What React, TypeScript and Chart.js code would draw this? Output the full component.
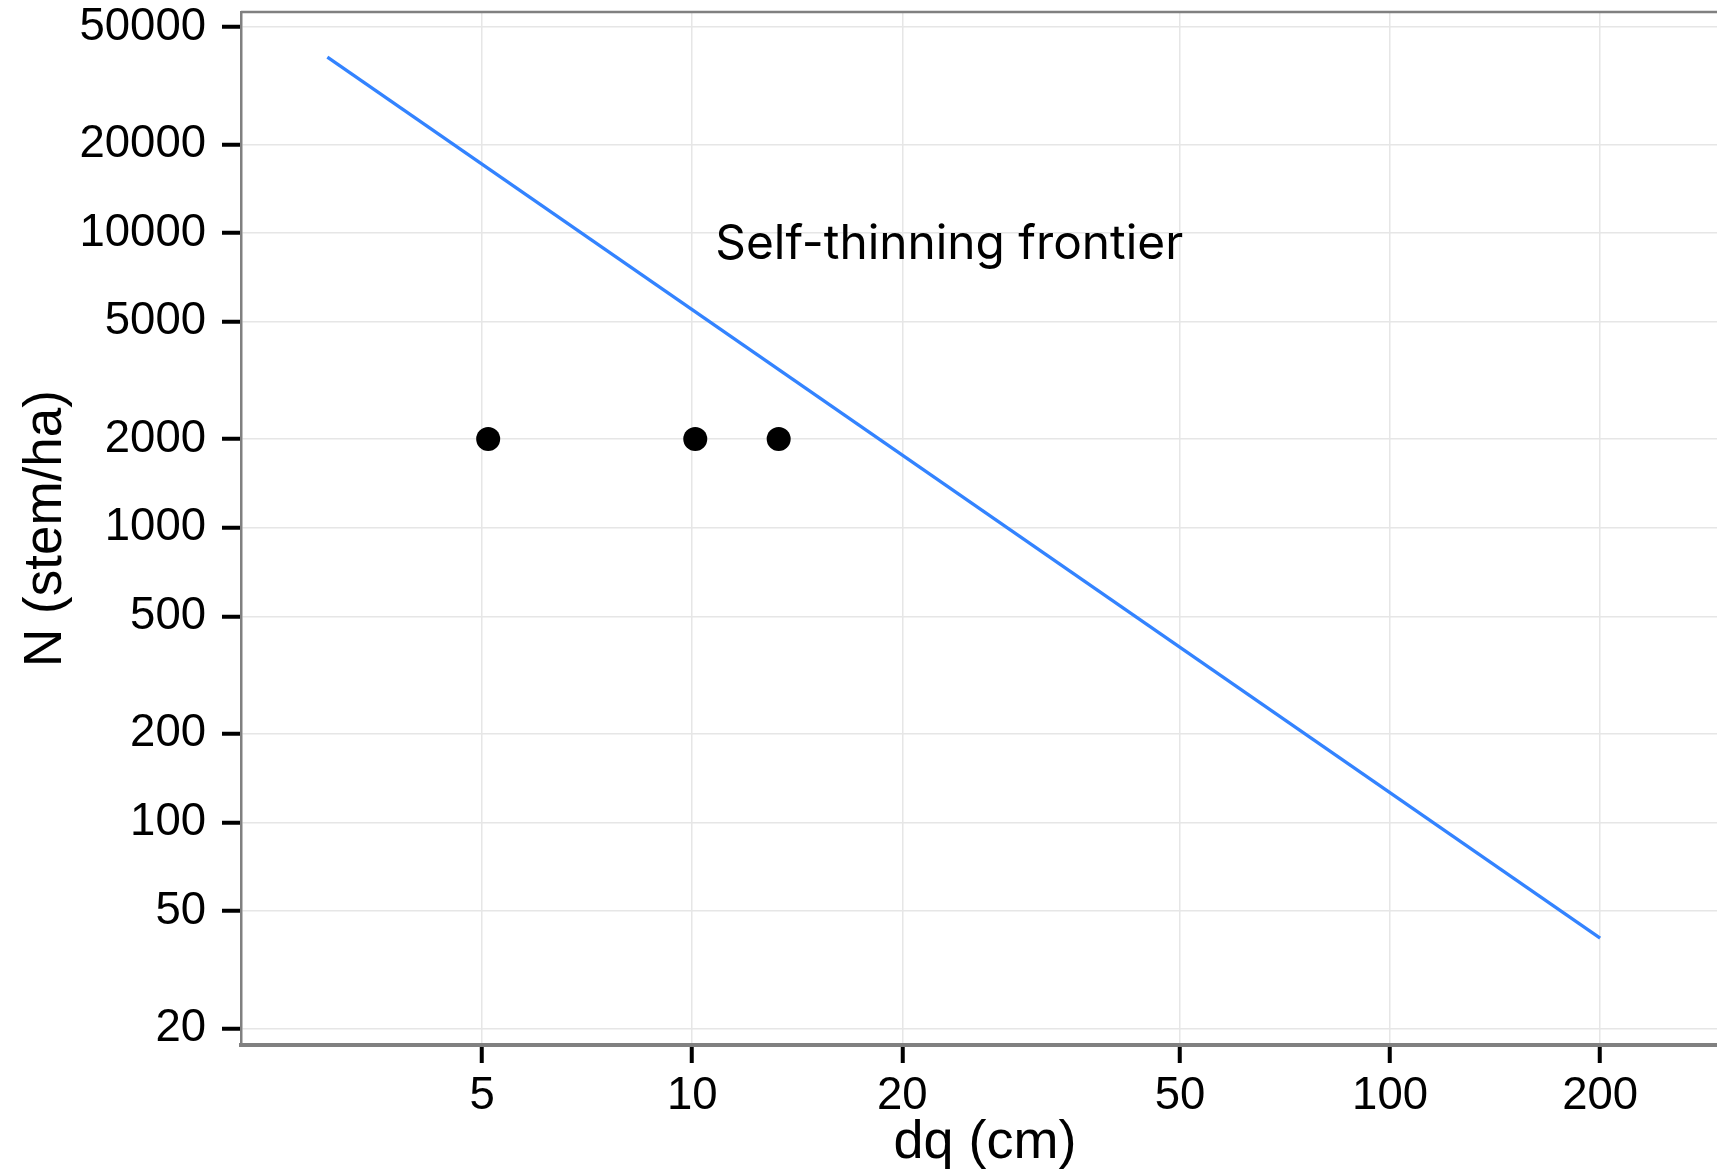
import React, { useEffect, useRef } from "react";
import { Chart, registerables } from "chart.js";

Chart.register(...registerables);

// ---- data ----
const frontierDq = [3, 200];
const frontierN = [39600, 40.5];
const standDq = [5.1, 10.1, 13.3];
const standN = [2000, 2000, 2000];
const xTickValues = [5, 10, 20, 50, 100, 200];
const yTickValues = [20, 50, 100, 200, 500, 1000, 2000, 5000, 10000, 20000, 50000];
const xLimits = [2.256, 306];
const yLimits = [17.57, 56300];
const annotationText = "Self-thinning frontier";
const annotationDq = 23.35;
const annotationN = 9150;
const xTitle = "dq (cm)";
const yTitle = "N (stem/ha)";

const TICK_FONT = { family: '"Liberation Sans", Arial, sans-serif', size: 45.5 };
const XTITLE_FONT = { family: '"Liberation Sans", Arial, sans-serif', size: 54 };
const YTITLE_FONT = { family: '"Liberation Sans", Arial, sans-serif', size: 53 };

const framePlugin = {
  id: "frameAndLabel",
  beforeDatasetsDraw(chart: any) {
    const { ctx, chartArea } = chart;
    ctx.save();
    ctx.strokeStyle = "#808080";
    ctx.lineWidth = 2.5;
    ctx.beginPath();
    ctx.moveTo(chartArea.left, chartArea.top);
    ctx.lineTo(chartArea.right, chartArea.top);
    ctx.lineTo(chartArea.right, chartArea.bottom);
    ctx.stroke();
    ctx.restore();
  },
  afterDatasetsDraw(chart: any) {
    const { ctx, scales } = chart;
    const x = scales.x.getPixelForValue(annotationDq);
    const y = scales.y.getPixelForValue(annotationN);
    ctx.save();
    const fam = 'Inter, "Noto Sans", sans-serif';
    ctx.font = `46px ${fam}`;
    const w = ctx.measureText(annotationText).width;
    const size = (46 * 468) / w;
    ctx.font = `${size}px ${fam}`;
    ctx.fillStyle = "#000";
    ctx.textAlign = "center";
    ctx.textBaseline = "middle";
    ctx.fillText(annotationText, x, y);
    ctx.restore();
  },
};

export default function App() {
  const ref = useRef<HTMLCanvasElement | null>(null);
  useEffect(() => {
    if (!ref.current) return;
    const chart = new Chart(ref.current, {
      type: "scatter",
      data: {
        datasets: [
          {
            label: "frontier",
            data: frontierDq.map((d, i) => ({ x: d, y: frontierN[i] })),
            showLine: true,
            borderColor: "#3383FF",
            borderWidth: 3.3,
            pointRadius: 0,
            fill: false,
          },
          {
            label: "stands",
            data: standDq.map((d, i) => ({ x: d, y: standN[i] })),
            showLine: false,
            pointRadius: 12,
            pointBackgroundColor: "#000",
            pointBorderWidth: 0,
            borderColor: "#000",
          },
        ],
      },
      options: {
        animation: false,
        responsive: false,
        layout: { padding: { top: 8, right: 31, bottom: 0, left: 0 } },
        plugins: { legend: { display: false }, tooltip: { enabled: false } },
        scales: {
          x: {
            type: "logarithmic",
            min: xLimits[0],
            max: xLimits[1],
            afterBuildTicks: (s: any) => {
              s.ticks = xTickValues.map((v) => ({ value: v }));
            },
            afterFit: (s: any) => {
              s.height = 131;
              s.paddingLeft = 0;
              s.paddingRight = 0;
            },
            grid: {
              color: "#e6e6e6",
              lineWidth: 1.5,
              tickColor: "#000",
              tickWidth: 4,
              tickLength: 18,
            },
            border: { display: true, color: "#808080", width: 4 },
            ticks: {
              autoSkip: false,
              maxRotation: 0,
              padding: 6,
              color: "#000",
              font: TICK_FONT,
              callback: (v: any) => String(v),
            },
            title: {
              display: true,
              text: xTitle,
              color: "#000",
              font: XTITLE_FONT,
              padding: { top: 0, bottom: 0 },
            },
          },
          y: {
            type: "logarithmic",
            min: yLimits[0],
            max: yLimits[1],
            afterBuildTicks: (s: any) => {
              s.ticks = yTickValues.map((v) => ({ value: v }));
            },
            afterFit: (s: any) => {
              s.width = 241;
              s.paddingTop = 0;
              s.paddingBottom = 0;
            },
            grid: {
              color: "#e6e6e6",
              lineWidth: 1.5,
              tickColor: "#000",
              tickWidth: 4,
              tickLength: 19,
            },
            border: { display: true, color: "#808080", width: 2.5 },
            ticks: {
              autoSkip: false,
              padding: 16,
              color: "#000",
              font: TICK_FONT,
              callback: (v: any) => String(v),
            },
            title: {
              display: true,
              text: yTitle,
              color: "#000",
              font: YTITLE_FONT,
              padding: { top: 15, bottom: 0 },
            },
          },
        },
      },
      plugins: [framePlugin],
    });
    return () => chart.destroy();
  }, []);

  return (
    <div
      style={{
        position: "fixed",
        left: 0,
        top: 0,
        width: 1717,
        height: 1176,
        overflow: "hidden",
        background: "#fff",
      }}
    >
      <canvas
        ref={ref}
        width={1760}
        height={1176}
        style={{ width: 1760, height: 1176, display: "block" }}
      />
    </div>
  );
}
